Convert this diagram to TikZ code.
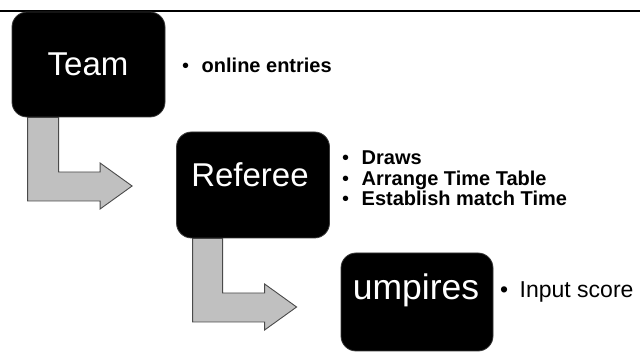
\documentclass[tikz,border=0pt]{standalone}
\usepackage{fontspec}
\setmainfont{Liberation Sans}
\usetikzlibrary{calc}
\pgfdeclarelayer{background}
\pgfsetlayers{background,main}
\definecolor{arrowfill}{HTML}{C0C0C0}
\definecolor{arrowline}{HTML}{4A4A4A}
\definecolor{boxline}{HTML}{3A3A3A}
\tikzset{
  stepbox/.style={fill=black, draw=boxline, line width=0.8pt, rounded corners=15pt,
    minimum width=#1, inner sep=0pt},
  boxlabel/.style={text=white, font=\fontsize{33}{36}\selectfont, inner sep=0pt, anchor=base},
  bentarrow/.style={fill=arrowfill, draw=arrowline, line width=0.9pt, line join=miter},
  bullettext/.style={font=\fontsize{20}{20.5}\selectfont, inner sep=0pt, anchor=base west, align=left},
}
\newcommand{\bul}{\makebox[16.5pt][l]{\hspace{-3pt}\textbullet}}
\begin{document}
\begin{tikzpicture}[x=1pt, y=-1pt]
\useasboundingbox (0,0) rectangle (640,352);
\draw[line width=2pt] (0,11) -- (640,11);

% boxes
\node[stepbox=153pt, minimum height=105pt] (team) at (88.5,64.5) {};
\node[stepbox=153pt, minimum height=106pt] (referee) at (253,185) {};
\node[stepbox=152pt, minimum height=98pt] (umpires) at (417,302) {};

% arrows (behind the boxes)
\coordinate (tip1) at ($(referee.west)+(-44,1)$);
\coordinate (tip2) at ($(umpires.west)+(-44,5)$);
\begin{pgfonlayer}{background}
\draw[bentarrow] ([xshift=16pt]team.south west) |- ($(tip1)+(-32,15)$) -- ($(tip1)+(-32,23)$) -- (tip1)
  -- ($(tip1)+(-32,-23)$) -- ($(tip1)+(-32,-14)$) -| ([xshift=47pt]team.south west) -- cycle;
\draw[bentarrow] ([xshift=16.5pt]referee.south west) |- ($(tip2)+(-32,15)$) -- ($(tip2)+(-32,23)$) -- (tip2)
  -- ($(tip2)+(-32,-23)$) -- ($(tip2)+(-32,-14)$) -| ([xshift=46.5pt]referee.south west) -- cycle;
\end{pgfonlayer}

% labels
\node[boxlabel] (teaml) at (88,76) {Team};
\node[boxlabel] (refl) at (250,187) {Referee};
\node[boxlabel, font=\fontsize{35.5}{38}\selectfont] (umpl) at (416,300) {umpires};

% bullets
\node[bullettext] (t1) at (185,73) {\bul\textbf{online entries}};
\node[bullettext] (r1) at (345,165) {\bul\textbf{Draws}};
\node[bullettext] (r2) at (345,185.5) {\bul\textbf{Arrange Time Table}};
\node[bullettext] (r3) at (345,206) {\bul\textbf{Establish match Time}};
\node[bullettext, font=\fontsize{23}{24}\selectfont] (u1) at (503,298) {\bul Input score};
\end{tikzpicture}
\end{document}
